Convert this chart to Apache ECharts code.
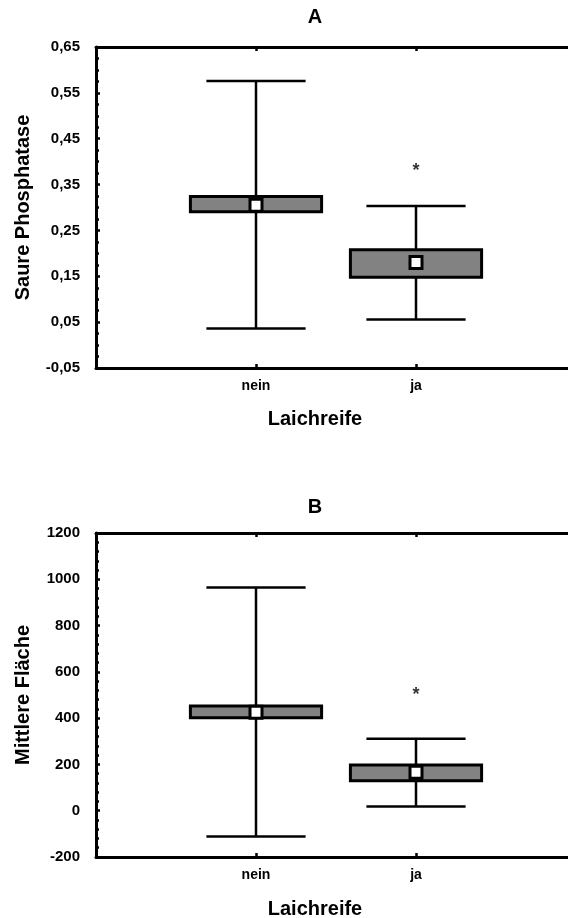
<!DOCTYPE html>
<html>
<head>
<meta charset="utf-8">
<script src="https://cdn.jsdelivr.net/npm/echarts@6/dist/echarts.min.js"></script>
<style>
  html, body { margin: 0; padding: 0; background: #fff; }
  #chart { width: 568px; height: 918px; }
</style>
</head>
<body>
<div id="chart"></div>
<script>
// Groups on the x axis (padded with empty slots at both ends)
const axisSlots = ['', 'nein', 'ja', ''];
const groups = ['nein', 'ja'];

// Panel A: Saure Phosphatase
const phosMean      = [0.305, 0.180];
const phosBoxLow    = [0.291, 0.148];
const phosBoxHigh   = [0.324, 0.208];
const phosWhiskLow  = [0.036, 0.056];
const phosWhiskHigh = [0.576, 0.303];
const phosStar      = [null, 0.387];

// Panel B: Mittlere Fläche
const areaMean      = [426, 166];
const areaBoxLow    = [402, 130];
const areaBoxHigh   = [452, 197];
const areaWhiskLow  = [-111, 18];
const areaWhiskHigh = [965, 311];
const areaStar      = [null, 513];

const textFont = "'Liberation Sans', Arial, sans-serif";
const BOX_FILL = '#828282';

function boxRows(wl, bl, bh, wh) {
  return groups.map((g, i) => [i + 1, wl[i], bl[i], bh[i], wh[i]]);
}
function meanRows(m) {
  return groups.map((g, i) => [i + 1, m[i]]);
}
function starRows(s) {
  return groups.map((g, i) => s[i] == null ? null : [i + 1, s[i]]).filter(Boolean);
}

// Whisker, caps and the filled box for one group
function renderBox(params, api) {
  const x = api.value(0);
  const pLow = api.coord([x, api.value(1)]);
  const pBL = api.coord([x, api.value(2)]);
  const pBH = api.coord([x, api.value(3)]);
  const pHigh = api.coord([x, api.value(4)]);
  const band = api.size([1, 0])[0];
  const capHalf = band * 0.31;
  const boxHalf = band * 0.41;
  const lineStyle = { stroke: '#000', lineWidth: 2.5 };
  return {
    type: 'group',
    children: [
      { type: 'line', shape: { x1: pLow[0], y1: pLow[1], x2: pHigh[0], y2: pHigh[1] }, style: lineStyle },
      { type: 'line', shape: { x1: pLow[0] - capHalf, y1: pLow[1], x2: pLow[0] + capHalf, y2: pLow[1] }, style: lineStyle },
      { type: 'line', shape: { x1: pHigh[0] - capHalf, y1: pHigh[1], x2: pHigh[0] + capHalf, y2: pHigh[1] }, style: lineStyle },
      { type: 'rect', shape: { x: pBH[0] - boxHalf, y: pBH[1], width: boxHalf * 2, height: pBL[1] - pBH[1] },
        style: { fill: BOX_FILL, stroke: '#000', lineWidth: 3 } }
    ]
  };
}

function xAxisPair(gridIndex) {
  const common = {
    type: 'category',
    data: axisSlots,
    boundaryGap: false,
    gridIndex: gridIndex,
    axisLine: { show: true, onZero: false, lineStyle: { color: '#000', width: 3 } },
    axisTick: { show: true, inside: true, length: 4, interval: (idx) => idx === 1 || idx === 2,
                lineStyle: { color: '#000', width: 2.5 } },
    splitLine: { show: false }
  };
  return [
    Object.assign({}, common, {
      position: 'bottom',
      axisLabel: { show: true, interval: 0, margin: 11, color: '#000', fontFamily: textFont,
                   fontWeight: 'bold', fontSize: 14 }
    }),
    Object.assign({}, common, { position: 'top', axisLabel: { show: false } })
  ];
}

function yAxisDef(gridIndex, min, max, interval, minorSplit, name, fmt) {
  return {
    type: 'value',
    gridIndex: gridIndex,
    min: min, max: max, interval: interval,
    name: name,
    nameLocation: 'middle',
    nameGap: 63,
    nameTextStyle: { color: '#000', fontFamily: textFont, fontWeight: 'bold', fontSize: 20 },
    axisLine: { show: true, onZero: false, lineStyle: { color: '#000', width: 3 } },
    axisTick: { show: true, inside: true, length: 4, lineStyle: { color: '#000', width: 2.5 } },
    minorTick: { show: true, splitNumber: minorSplit, length: 3, lineStyle: { color: '#000', width: 2.5 } },
    splitLine: { show: false },
    minorSplitLine: { show: false },
    axisLabel: { color: '#000', margin: 16, fontFamily: textFont, fontWeight: 'bold', fontSize: 15,
                 formatter: fmt }
  };
}

function panelSeries(xIdx, yIdx, wl, bl, bh, wh, m, s) {
  return [
    { type: 'custom', xAxisIndex: xIdx, yAxisIndex: yIdx, renderItem: renderBox,
      data: boxRows(wl, bl, bh, wh), z: 2 },
    { type: 'scatter', xAxisIndex: xIdx, yAxisIndex: yIdx, symbol: 'rect', symbolSize: 12,
      itemStyle: { color: '#fff', borderColor: '#000', borderWidth: 3, opacity: 1 },
      data: meanRows(m), z: 3 },
    { type: 'scatter', xAxisIndex: xIdx, yAxisIndex: yIdx, symbolSize: 1,
      itemStyle: { color: 'rgba(0,0,0,0)' },
      label: { show: true, position: 'inside', formatter: '*', color: '#000',
               fontFamily: textFont, fontWeight: 'bold', fontSize: 18, offset: [0, 3] },
      data: starRows(s), z: 3 }
  ];
}

const titleStyle = { color: '#000', fontFamily: textFont, fontWeight: 'bold', fontSize: 20 };

const chart = echarts.init(document.getElementById('chart'), null, { renderer: 'canvas' });
chart.setOption({
  animation: false,
  backgroundColor: '#fff',
  title: [
    { text: 'A', left: 315, top: 7, padding: 0, textAlign: 'center', textStyle: titleStyle },
    { text: 'Laichreife', left: 315, top: 409, padding: 0, textAlign: 'center', textStyle: titleStyle },
    { text: 'B', left: 315, top: 497, padding: 0, textAlign: 'center', textStyle: titleStyle },
    { text: 'Laichreife', left: 315, top: 899, padding: 0, textAlign: 'center', textStyle: titleStyle }
  ],
  // the plot frame runs past the right edge of the canvas
  grid: [
    { left: 96, width: 480, top: 47, height: 321, outerBoundsMode: 'none', containLabel: false },
    { left: 96, width: 480, top: 533, height: 324, outerBoundsMode: 'none', containLabel: false }
  ],
  xAxis: xAxisPair(0).concat(xAxisPair(1)),
  yAxis: [
    yAxisDef(0, -0.05, 0.65, 0.1, 4, 'Saure Phosphatase', (v) => v.toFixed(2).replace('.', ',')),
    yAxisDef(1, -200, 1200, 200, 5, 'Mittlere Fläche', (v) => String(Math.round(v)))
  ],
  series: panelSeries(0, 0, phosWhiskLow, phosBoxLow, phosBoxHigh, phosWhiskHigh, phosMean, phosStar)
    .concat(panelSeries(2, 1, areaWhiskLow, areaBoxLow, areaBoxHigh, areaWhiskHigh, areaMean, areaStar))
});
</script>
</body>
</html>
